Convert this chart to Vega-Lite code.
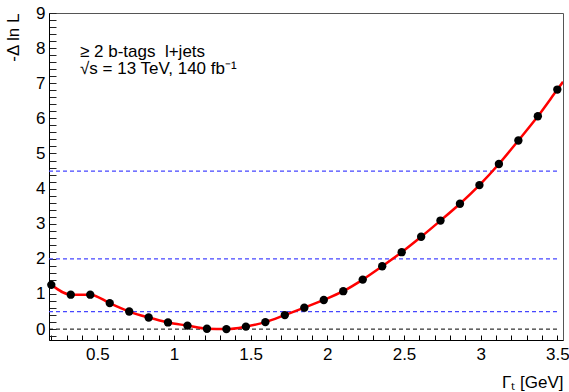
{
  "$schema": "https://vega.github.io/schema/vega-lite/v6.json",
  "width": 514,
  "height": 327,
  "autosize": {"type": "none"},
  "padding": {"left": 49, "top": 13, "right": 6, "bottom": 52},
  "background": "white",
  "config": {
    "view": {"stroke": "#555", "strokeWidth": 1},
    "font": "Liberation Sans",
    "axis": {"labelOverlap": false, "labelFlush": false, "labelBound": false, "grid": false}
  },
  "datasets": {
    "ci": [
      {"y": 4.5, "x": 0.185, "x2": 3.5},
      {"y": 2, "x": 0.185, "x2": 3.5},
      {"y": 0.5, "x": 0.185, "x2": 3.5}
    ],
    "zero": [
      {"y": 0, "x": 0.185, "x2": 3.5}
    ],
    "pts": [
      {"x": 0.2, "y": 1.26},
      {"x": 0.327, "y": 0.98},
      {"x": 0.454, "y": 0.98},
      {"x": 0.581, "y": 0.74},
      {"x": 0.708, "y": 0.5},
      {"x": 0.835, "y": 0.33},
      {"x": 0.961, "y": 0.19},
      {"x": 1.088, "y": 0.1},
      {"x": 1.215, "y": 0.01},
      {"x": 1.342, "y": 0.0},
      {"x": 1.469, "y": 0.07},
      {"x": 1.596, "y": 0.2},
      {"x": 1.723, "y": 0.4},
      {"x": 1.85, "y": 0.61},
      {"x": 1.977, "y": 0.83},
      {"x": 2.104, "y": 1.08},
      {"x": 2.231, "y": 1.41},
      {"x": 2.358, "y": 1.79},
      {"x": 2.485, "y": 2.19},
      {"x": 2.612, "y": 2.63},
      {"x": 2.738, "y": 3.09},
      {"x": 2.865, "y": 3.57},
      {"x": 2.992, "y": 4.1},
      {"x": 3.119, "y": 4.7},
      {"x": 3.246, "y": 5.37},
      {"x": 3.373, "y": 6.06},
      {"x": 3.5, "y": 6.82}
    ],
    "fit": [
      {"x": 0.185, "y": 1.31},
      {"x": 0.2, "y": 1.26},
      {"x": 0.327, "y": 0.98},
      {"x": 0.454, "y": 0.98},
      {"x": 0.581, "y": 0.74},
      {"x": 0.708, "y": 0.5},
      {"x": 0.835, "y": 0.33},
      {"x": 0.961, "y": 0.19},
      {"x": 1.088, "y": 0.1},
      {"x": 1.215, "y": 0.01},
      {"x": 1.342, "y": 0.0},
      {"x": 1.469, "y": 0.07},
      {"x": 1.596, "y": 0.2},
      {"x": 1.723, "y": 0.4},
      {"x": 1.85, "y": 0.61},
      {"x": 1.977, "y": 0.83},
      {"x": 2.104, "y": 1.08},
      {"x": 2.231, "y": 1.41},
      {"x": 2.358, "y": 1.79},
      {"x": 2.485, "y": 2.19},
      {"x": 2.612, "y": 2.63},
      {"x": 2.738, "y": 3.09},
      {"x": 2.865, "y": 3.57},
      {"x": 2.992, "y": 4.1},
      {"x": 3.119, "y": 4.7},
      {"x": 3.246, "y": 5.37},
      {"x": 3.373, "y": 6.06},
      {"x": 3.5, "y": 6.82},
      {"x": 3.537, "y": 7.04}
    ],
    "labels": [
      {"x": 0.387, "y": 7.74, "text": "≥ 2 b-tags\u00a0\u00a0l+jets"},
      {"x": 0.387, "y": 7.25, "text": "√s = 13 TeV, 140 fb⁻¹"}
    ]
  },
  "layer": [
    {
      "data": {"name": "zero"},
      "mark": {"type": "rule", "strokeWidth": 1, "strokeDash": [4, 3], "color": "#000000"},
      "encoding": {
        "x": {
          "field": "x",
          "type": "quantitative",
          "scale": {"domain": [0.185, 3.537], "nice": false, "zero": false},
          "axis": {
            "title": "Γₜ [GeV]",
            "values": [0.2,0.3,0.4,0.5,0.6,0.7,0.8,0.9,1.0,1.1,1.2,1.3,1.4,1.5,1.6,1.7,1.8,1.9,2.0,2.1,2.2,2.3,2.4,2.5,2.6,2.7,2.8,2.9,3.0,3.1,3.2,3.3,3.4,3.5],
            "tickCount": 200,
            "labelExpr": "abs(datum.value*2-round(datum.value*2))<0.001 ? format(round(datum.value*2)/2, '~g') : ''",
            "tickSize": -5,
            "encoding": {
              "ticks": {"update": {"y2": {"signal": "abs(datum.value*2-round(datum.value*2))<0.001 ? -10 : -5"}}}
            },
            "labelPadding": 11,
            "labelBaseline": "top",
            "domainColor": "#000",
            "tickColor": "#000",
            "labelColor": "#000",
            "labelFontSize": 17,
            "labelFont": "Liberation Sans",
            "titleFont": "Liberation Sans",
            "titleFontSize": 17,
            "titleFontWeight": "normal",
            "titleColor": "#000",
            "titleAnchor": "end",
            "titleAlign": "right",
            "titleX": 514,
            "titleY": 47,
            "titleBaseline": "alphabetic"
          }
        },
        "x2": {"field": "x2"},
        "y": {
          "field": "y",
          "type": "quantitative",
          "scale": {"domain": [-0.31, 9], "nice": false, "zero": false},
          "axis": {
            "title": "-Δ ln L",
            "values": [-0.2,0,0.2,0.4,0.6,0.8,1,1.2,1.4,1.6,1.8,2,2.2,2.4,2.6,2.8,3,3.2,3.4,3.6,3.8,4,4.2,4.4,4.6,4.8,5,5.2,5.4,5.6,5.8,6,6.2,6.4,6.6,6.8,7,7.2,7.4,7.6,7.8,8,8.2,8.4,8.6,8.8,9],
            "tickCount": 200,
            "labelExpr": "abs(datum.value-round(datum.value))<0.001 ? format(round(datum.value), 'd') : ''",
            "tickSize": -7,
            "encoding": {
              "ticks": {"update": {"x2": {"signal": "abs(datum.value-round(datum.value))<0.001 ? 13 : 7"}}}
            },
            "labelPadding": 11,
            "domainColor": "#000",
            "tickColor": "#222",
            "labelColor": "#000",
            "labelFontSize": 17,
            "labelFont": "Liberation Sans",
            "titleFont": "Liberation Sans",
            "titleFontSize": 17,
            "titleFontWeight": "normal",
            "titleColor": "#000",
            "titleAnchor": "end",
            "titleAlign": "right",
            "titleAngle": -90,
            "titleX": -36,
            "titleY": 0,
            "titleBaseline": "middle"
          }
        }
      }
    },
    {
      "data": {"name": "ci"},
      "mark": {"type": "rule", "strokeWidth": 1.2, "strokeDash": [4, 3], "color": "#4646ff"},
      "encoding": {
        "x": {"field": "x", "type": "quantitative"},
        "x2": {"field": "x2"},
        "y": {"field": "y", "type": "quantitative"}
      }
    },
    {
      "data": {"name": "fit"},
      "mark": {"type": "line", "color": "#ff0000", "strokeWidth": 2.5, "interpolate": "monotone", "clip": true},
      "encoding": {
        "x": {"field": "x", "type": "quantitative"},
        "y": {"field": "y", "type": "quantitative"}
      }
    },
    {
      "data": {"name": "pts"},
      "mark": {"type": "circle", "color": "#000", "opacity": 1, "size": 70},
      "encoding": {
        "x": {"field": "x", "type": "quantitative"},
        "y": {"field": "y", "type": "quantitative"}
      }
    },
    {
      "data": {"name": "labels"},
      "mark": {"type": "text", "align": "left", "baseline": "alphabetic", "fontSize": 17, "font": "Liberation Sans", "color": "#000"},
      "encoding": {
        "x": {"field": "x", "type": "quantitative"},
        "y": {"field": "y", "type": "quantitative"},
        "text": {"field": "text"}
      }
    }
  ]
}
